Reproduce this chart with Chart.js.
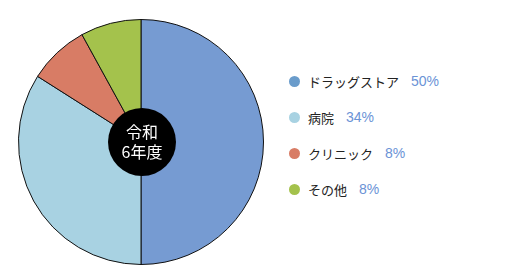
<!DOCTYPE html>
<html lang="ja">
<head>
<meta charset="utf-8">
<script src="https://cdn.jsdelivr.net/npm/chart.js"></script>
<style>
  body { margin: 0; background: #fff; font-family: "Noto Sans CJK JP", sans-serif; }
  #wrap { position: relative; width: 515px; height: 280px; }
  #chartBox { position: absolute; left: 0; top: 0; width: 283px; height: 280px; }
  #legend { position: absolute; left: 289px; top: 72px; }
  .item { display: flex; align-items: center; height: 18px; margin-bottom: 18px; font-size: 13px; color: #222; }
  .dot { width: 11px; height: 11px; border-radius: 50%; margin-right: 8px; }
  .pct { color: #6b93d6; margin-left: 12px; font-family: "Liberation Sans", sans-serif; font-size: 14px; }
</style>
</head>
<body>
<div id="wrap">
  <div id="chartBox"><canvas id="pie"></canvas></div>
  <div id="legend"></div>
</div>
<script>
const labels = ['ドラッグストア', '病院', 'クリニック', 'その他'];
const values = [50, 34, 8, 8];
const colors = ['#769bd2', '#a8d2e2', '#d87c65', '#a4c24c'];
const dotColors = ['#6a9ccb', '#a8d2e2', '#d87c65', '#a4c24c'];
const centerLines = ['令和', '6年度'];

const legendEl = document.getElementById('legend');
labels.forEach((name, i) => {
  const row = document.createElement('div');
  row.className = 'item';
  row.innerHTML = '<span class="dot" style="background:' + dotColors[i] + '"></span>' +
    '<span>' + name + '</span><span class="pct">' + values[i] + '%</span>';
  legendEl.appendChild(row);
});

// black badge in the middle of the pie
const centerBadge = {
  id: 'centerBadge',
  afterDraw(chart) {
    const arc = chart.getDatasetMeta(0).data[0];
    if (!arc) return;
    const ctx = chart.ctx;
    ctx.save();
    ctx.beginPath();
    ctx.arc(arc.x + 1, arc.y, 34, 0, Math.PI * 2);
    ctx.fillStyle = '#000';
    ctx.fill();
    ctx.fillStyle = '#fff';
    ctx.font = '16px "Noto Sans CJK JP"';
    ctx.textAlign = 'center';
    ctx.textBaseline = 'middle';
    ctx.fillText(centerLines[0], arc.x + 1, arc.y - 10);
    ctx.fillText(centerLines[1], arc.x + 1, arc.y + 10);
    ctx.restore();
  }
};

new Chart(document.getElementById('pie'), {
  type: 'pie',
  data: {
    labels: labels,
    datasets: [{
      data: values,
      backgroundColor: colors,
      borderColor: '#111',
      borderWidth: 1
    }]
  },
  options: {
    responsive: true,
    maintainAspectRatio: false,
    animation: false,
    layout: { padding: { left: 18, top: 19, right: 19, bottom: 15 } },
    plugins: {
      legend: { display: false },
      tooltip: { enabled: false }
    }
  },
  plugins: [centerBadge]
});
</script>
</body>
</html>
